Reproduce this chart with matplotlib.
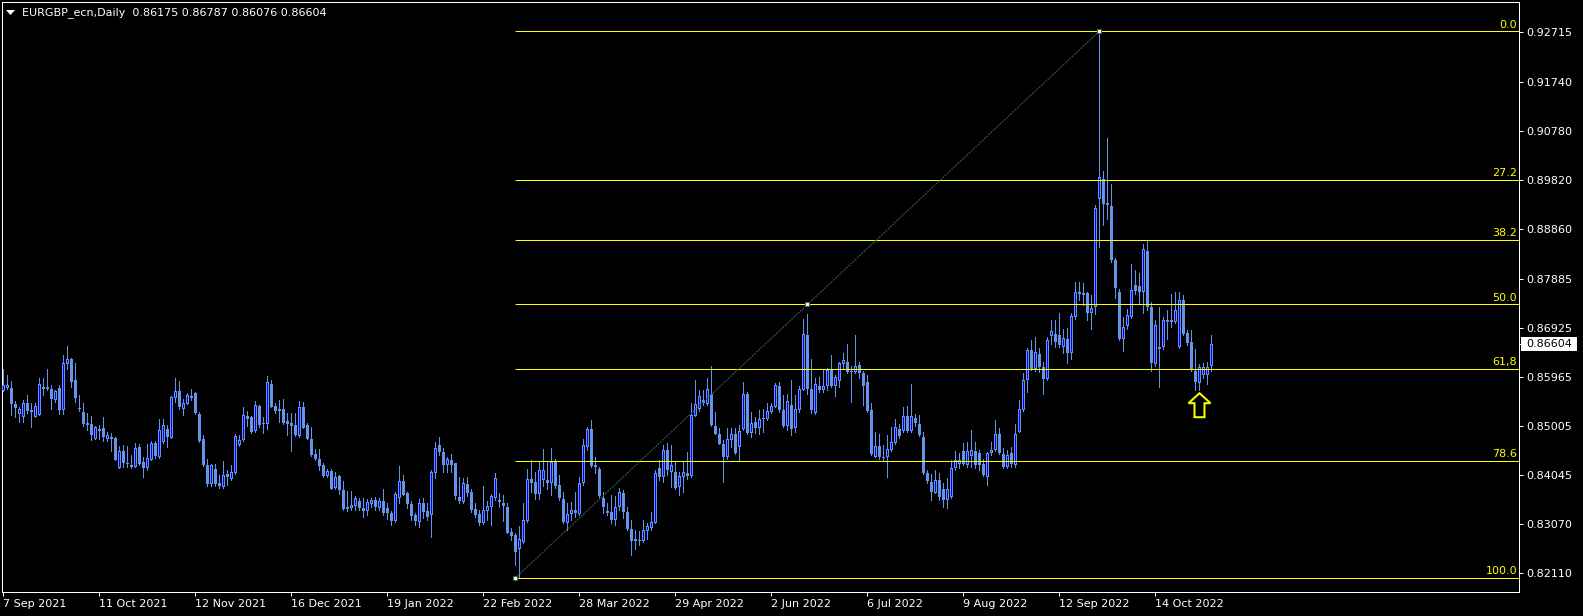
import numpy as np
import matplotlib
matplotlib.use("Agg")
import matplotlib.pyplot as plt
import matplotlib.transforms as mtransforms
from matplotlib.patches import Rectangle, Polygon
from matplotlib.collections import LineCollection

plt.rcParams['font.family'] = ['DejaVu Sans']

# EURGBP daily candles, 7 Sep 2021 .. 3 Nov 2022
opens = [
    0.8569, 0.8574, 0.8574, 0.8542, 0.8523, 0.8517, 0.8544, 0.8531, 0.8518, 0.8522,
    0.8576, 0.8576, 0.8572, 0.8550, 0.8574, 0.8531, 0.8621, 0.8632, 0.8589, 0.8535,
    0.8527, 0.8505, 0.8503, 0.8475, 0.8493, 0.8495, 0.8474, 0.8479, 0.8476, 0.8418,
    0.8450, 0.8427, 0.8419, 0.8420, 0.8458, 0.8429, 0.8418, 0.8434, 0.8466, 0.8439,
    0.8468, 0.8493, 0.8477, 0.8555, 0.8568, 0.8534, 0.8543, 0.8559, 0.8564, 0.8523,
    0.8474, 0.8423, 0.8386, 0.8415, 0.8387, 0.8380, 0.8405, 0.8395, 0.8407, 0.8463,
    0.8472, 0.8519, 0.8518, 0.8489, 0.8538, 0.8505, 0.8504, 0.8583, 0.8538, 0.8533,
    0.8533, 0.8509, 0.8506, 0.8501, 0.8480, 0.8537, 0.8501, 0.8474, 0.8444, 0.8435,
    0.8423, 0.8402, 0.8411, 0.8379, 0.8401, 0.8374, 0.8340, 0.8339, 0.8343, 0.8352,
    0.8339, 0.8333, 0.8346, 0.8354, 0.8338, 0.8352, 0.8339, 0.8330, 0.8313, 0.8359,
    0.8391, 0.8368, 0.8347, 0.8325, 0.8311, 0.8348, 0.8333, 0.8326, 0.8407, 0.8462,
    0.8448, 0.8423, 0.8433, 0.8427, 0.8361, 0.8351, 0.8386, 0.8370, 0.8337, 0.8328,
    0.8309, 0.8334, 0.8341, 0.8359, 0.8355, 0.8348, 0.8340, 0.8291, 0.8286, 0.8258,
    0.8273, 0.8314, 0.8395, 0.8390, 0.8366, 0.8394, 0.8394, 0.8388, 0.8430, 0.8384,
    0.8357, 0.8309, 0.8327, 0.8335, 0.8327, 0.8387, 0.8458, 0.8493, 0.8423, 0.8416,
    0.8359, 0.8334, 0.8331, 0.8315, 0.8341, 0.8368, 0.8331, 0.8298, 0.8278, 0.8276,
    0.8274, 0.8294, 0.8299, 0.8310, 0.8418, 0.8400, 0.8452, 0.8410, 0.8410, 0.8381,
    0.8399, 0.8407, 0.8401, 0.8520, 0.8534, 0.8550, 0.8542, 0.8562, 0.8500, 0.8485,
    0.8464, 0.8438, 0.8472, 0.8485, 0.8459, 0.8493, 0.8562, 0.8486, 0.8508, 0.8495,
    0.8516, 0.8514, 0.8527, 0.8537, 0.8578, 0.8531, 0.8499, 0.8540, 0.8495, 0.8532,
    0.8571, 0.8678, 0.8573, 0.8526, 0.8578, 0.8571, 0.8578, 0.8609, 0.8578, 0.8588,
    0.8622, 0.8625, 0.8608, 0.8606, 0.8619, 0.8603, 0.8586, 0.8532, 0.8439, 0.8460,
    0.8439, 0.8438, 0.8453, 0.8466, 0.8493, 0.8490, 0.8520, 0.8490, 0.8516, 0.8503,
    0.8479, 0.8408, 0.8389, 0.8369, 0.8394, 0.8376, 0.8355, 0.8361, 0.8417, 0.8425,
    0.8450, 0.8423, 0.8441, 0.8450, 0.8447, 0.8426, 0.8400, 0.8446, 0.8453, 0.8485,
    0.8444, 0.8420, 0.8446, 0.8423, 0.8488, 0.8531, 0.8590, 0.8648, 0.8611, 0.8641,
    0.8616, 0.8591, 0.8676, 0.8681, 0.8678, 0.8654, 0.8671, 0.8642, 0.8714, 0.8763,
    0.8761, 0.8761, 0.8722, 0.8733, 0.8944, 0.8983, 0.8936, 0.8931, 0.8825, 0.8763,
    0.8671, 0.8696, 0.8714, 0.8776, 0.8774, 0.8763, 0.8843, 0.8733, 0.8621, 0.8654,
    0.8654, 0.8703, 0.8708, 0.8704, 0.8654, 0.8746, 0.8683, 0.8665, 0.8608, 0.8584,
    0.8599, 0.8599, 0.86175]
highs = [
    0.8612, 0.8600, 0.8588, 0.8549, 0.8537, 0.8550, 0.8561, 0.8544, 0.8544, 0.8594,
    0.8594, 0.8611, 0.8580, 0.8570, 0.8580, 0.8638, 0.8656, 0.8633, 0.8623, 0.8561,
    0.8544, 0.8525, 0.8519, 0.8500, 0.8502, 0.8517, 0.8488, 0.8486, 0.8478, 0.8460,
    0.8462, 0.8460, 0.8442, 0.8467, 0.8464, 0.8439, 0.8464, 0.8471, 0.8471, 0.8513,
    0.8514, 0.8501, 0.8558, 0.8593, 0.8588, 0.8553, 0.8565, 0.8572, 0.8566, 0.8527,
    0.8482, 0.8435, 0.8426, 0.8426, 0.8403, 0.8431, 0.8413, 0.8424, 0.8485, 0.8482,
    0.8537, 0.8529, 0.8520, 0.8548, 0.8540, 0.8518, 0.8597, 0.8589, 0.8544, 0.8550,
    0.8552, 0.8526, 0.8526, 0.8526, 0.8548, 0.8547, 0.8506, 0.8497, 0.8454, 0.8454,
    0.8428, 0.8415, 0.8416, 0.8410, 0.8403, 0.8392, 0.8372, 0.8372, 0.8363, 0.8359,
    0.8358, 0.8356, 0.8359, 0.8361, 0.8358, 0.8377, 0.8348, 0.8333, 0.8371, 0.8421,
    0.8403, 0.8371, 0.8353, 0.8330, 0.8357, 0.8359, 0.8348, 0.8414, 0.8469, 0.8478,
    0.8456, 0.8439, 0.8444, 0.8427, 0.8400, 0.8397, 0.8400, 0.8376, 0.8348, 0.8335,
    0.8382, 0.8353, 0.8366, 0.8407, 0.8368, 0.8364, 0.8348, 0.8299, 0.8289, 0.8304,
    0.8348, 0.8416, 0.8434, 0.8410, 0.8432, 0.8454, 0.8430, 0.8456, 0.8436, 0.8403,
    0.8370, 0.8348, 0.8351, 0.8370, 0.8400, 0.8475, 0.8498, 0.8511, 0.8439, 0.8420,
    0.8370, 0.8348, 0.8364, 0.8362, 0.8379, 0.8375, 0.8341, 0.8316, 0.8296, 0.8293,
    0.8316, 0.8309, 0.8331, 0.8414, 0.8433, 0.8462, 0.8466, 0.8462, 0.8430, 0.8410,
    0.8430, 0.8448, 0.8544, 0.8589, 0.8571, 0.8570, 0.8593, 0.8617, 0.8527, 0.8495,
    0.8473, 0.8495, 0.8495, 0.8495, 0.8501, 0.8585, 0.8567, 0.8527, 0.8518, 0.8531,
    0.8534, 0.8544, 0.8545, 0.8584, 0.8586, 0.8560, 0.8562, 0.8589, 0.8560, 0.8578,
    0.8710, 0.8719, 0.8632, 0.8593, 0.8596, 0.8609, 0.8613, 0.8638, 0.8600, 0.8625,
    0.8643, 0.8660, 0.8617, 0.8678, 0.8626, 0.8608, 0.8599, 0.8544, 0.8488, 0.8485,
    0.8462, 0.8482, 0.8498, 0.8513, 0.8504, 0.8537, 0.8539, 0.8583, 0.8524, 0.8521,
    0.8488, 0.8413, 0.8406, 0.8413, 0.8407, 0.8387, 0.8397, 0.8434, 0.8451, 0.8446,
    0.8467, 0.8469, 0.8492, 0.8469, 0.8453, 0.8436, 0.8449, 0.8469, 0.8511, 0.8495,
    0.8456, 0.8453, 0.8459, 0.8504, 0.8550, 0.8604, 0.8652, 0.8668, 0.8675, 0.8652,
    0.8626, 0.8675, 0.8708, 0.8708, 0.8722, 0.8689, 0.8691, 0.8722, 0.8782, 0.8782,
    0.8780, 0.8763, 0.8756, 0.8933, 0.9274, 0.9000, 0.9065, 0.8975, 0.8830, 0.8769,
    0.8714, 0.8730, 0.8817, 0.8805, 0.8799, 0.8857, 0.8863, 0.8743, 0.8707, 0.8733,
    0.8714, 0.8728, 0.8759, 0.8763, 0.8763, 0.8756, 0.8688, 0.8688, 0.8650, 0.8622,
    0.8624, 0.8626, 0.86787]
lows = [
    0.8568, 0.8573, 0.8522, 0.8518, 0.8508, 0.8508, 0.8526, 0.8498, 0.8518, 0.8522,
    0.8560, 0.8570, 0.8534, 0.8547, 0.8523, 0.8523, 0.8611, 0.8576, 0.8547, 0.8529,
    0.8500, 0.8491, 0.8473, 0.8474, 0.8474, 0.8470, 0.8471, 0.8450, 0.8433, 0.8418,
    0.8420, 0.8420, 0.8418, 0.8420, 0.8424, 0.8400, 0.8413, 0.8433, 0.8437, 0.8437,
    0.8467, 0.8459, 0.8476, 0.8547, 0.8534, 0.8522, 0.8542, 0.8550, 0.8523, 0.8468,
    0.8421, 0.8382, 0.8382, 0.8382, 0.8378, 0.8378, 0.8384, 0.8393, 0.8405, 0.8460,
    0.8470, 0.8500, 0.8486, 0.8488, 0.8498, 0.8486, 0.8493, 0.8536, 0.8526, 0.8508,
    0.8504, 0.8483, 0.8451, 0.8480, 0.8478, 0.8495, 0.8474, 0.8441, 0.8433, 0.8414,
    0.8400, 0.8399, 0.8376, 0.8377, 0.8367, 0.8335, 0.8334, 0.8335, 0.8335, 0.8335,
    0.8322, 0.8325, 0.8341, 0.8335, 0.8335, 0.8325, 0.8317, 0.8305, 0.8312, 0.8349,
    0.8364, 0.8339, 0.8316, 0.8305, 0.8302, 0.8320, 0.8316, 0.8283, 0.8398, 0.8442,
    0.8410, 0.8410, 0.8410, 0.8357, 0.8348, 0.8348, 0.8363, 0.8331, 0.8322, 0.8305,
    0.8307, 0.8316, 0.8305, 0.8354, 0.8341, 0.8314, 0.8289, 0.8277, 0.8227, 0.8202,
    0.8271, 0.8311, 0.8370, 0.8357, 0.8357, 0.8382, 0.8377, 0.8364, 0.8379, 0.8355,
    0.8310, 0.8296, 0.8316, 0.8322, 0.8325, 0.8384, 0.8452, 0.8420, 0.8407, 0.8361,
    0.8330, 0.8325, 0.8309, 0.8305, 0.8336, 0.8320, 0.8296, 0.8246, 0.8259, 0.8266,
    0.8272, 0.8279, 0.8296, 0.8309, 0.8394, 0.8390, 0.8403, 0.8381, 0.8377, 0.8364,
    0.8370, 0.8395, 0.8400, 0.8519, 0.8529, 0.8540, 0.8540, 0.8500, 0.8484, 0.8464,
    0.8390, 0.8436, 0.8459, 0.8444, 0.8431, 0.8491, 0.8484, 0.8478, 0.8486, 0.8485,
    0.8488, 0.8511, 0.8525, 0.8536, 0.8527, 0.8498, 0.8491, 0.8483, 0.8488, 0.8527,
    0.8570, 0.8563, 0.8525, 0.8524, 0.8567, 0.8567, 0.8570, 0.8577, 0.8558, 0.8577,
    0.8614, 0.8603, 0.8547, 0.8603, 0.8593, 0.8541, 0.8528, 0.8443, 0.8438, 0.8436,
    0.8433, 0.8400, 0.8451, 0.8464, 0.8476, 0.8488, 0.8488, 0.8488, 0.8500, 0.8480,
    0.8406, 0.8387, 0.8355, 0.8368, 0.8355, 0.8340, 0.8338, 0.8358, 0.8413, 0.8417,
    0.8423, 0.8420, 0.8420, 0.8417, 0.8413, 0.8402, 0.8384, 0.8443, 0.8451, 0.8445,
    0.8417, 0.8417, 0.8420, 0.8420, 0.8487, 0.8530, 0.8567, 0.8609, 0.8608, 0.8606,
    0.8562, 0.8590, 0.8660, 0.8655, 0.8655, 0.8642, 0.8624, 0.8632, 0.8710, 0.8746,
    0.8737, 0.8707, 0.8689, 0.8719, 0.8850, 0.8893, 0.8906, 0.8821, 0.8750, 0.8668,
    0.8647, 0.8689, 0.8712, 0.8759, 0.8741, 0.8722, 0.8728, 0.8608, 0.8617, 0.8577,
    0.8650, 0.8671, 0.8694, 0.8701, 0.8652, 0.8678, 0.8658, 0.8608, 0.8571, 0.8570,
    0.8593, 0.8583, 0.86076]
closes = [
    0.8581, 0.8580, 0.8543, 0.8535, 0.8533, 0.8544, 0.8529, 0.8527, 0.8538, 0.8583,
    0.8573, 0.8572, 0.8552, 0.8568, 0.8531, 0.8623, 0.8632, 0.8586, 0.8555, 0.8534,
    0.8503, 0.8501, 0.8482, 0.8497, 0.8489, 0.8478, 0.8482, 0.8474, 0.8433, 0.8450,
    0.8427, 0.8425, 0.8423, 0.8456, 0.8425, 0.8418, 0.8437, 0.8466, 0.8440, 0.8491,
    0.8501, 0.8478, 0.8556, 0.8568, 0.8537, 0.8544, 0.8560, 0.8555, 0.8526, 0.8470,
    0.8423, 0.8386, 0.8423, 0.8386, 0.8382, 0.8403, 0.8400, 0.8409, 0.8480, 0.8473,
    0.8521, 0.8514, 0.8488, 0.8540, 0.8502, 0.8504, 0.8585, 0.8537, 0.8529, 0.8530,
    0.8506, 0.8503, 0.8500, 0.8482, 0.8537, 0.8496, 0.8475, 0.8442, 0.8435, 0.8421,
    0.8401, 0.8411, 0.8377, 0.8400, 0.8374, 0.8337, 0.8337, 0.8345, 0.8358, 0.8338,
    0.8333, 0.8350, 0.8354, 0.8341, 0.8352, 0.8330, 0.8330, 0.8313, 0.8367, 0.8391,
    0.8365, 0.8346, 0.8324, 0.8314, 0.8348, 0.8331, 0.8322, 0.8409, 0.8456, 0.8448,
    0.8423, 0.8436, 0.8423, 0.8362, 0.8353, 0.8387, 0.8368, 0.8335, 0.8325, 0.8309,
    0.8335, 0.8343, 0.8362, 0.8397, 0.8351, 0.8343, 0.8290, 0.8284, 0.8253, 0.8279,
    0.8315, 0.8395, 0.8388, 0.8366, 0.8413, 0.8413, 0.8388, 0.8430, 0.8382, 0.8359,
    0.8311, 0.8328, 0.8336, 0.8330, 0.8387, 0.8462, 0.8493, 0.8421, 0.8420, 0.8362,
    0.8340, 0.8330, 0.8316, 0.8341, 0.8371, 0.8331, 0.8298, 0.8274, 0.8275, 0.8274,
    0.8296, 0.8303, 0.8311, 0.8408, 0.8400, 0.8452, 0.8413, 0.8423, 0.8379, 0.8401,
    0.8410, 0.8402, 0.8521, 0.8542, 0.8558, 0.8544, 0.8572, 0.8501, 0.8485, 0.8465,
    0.8438, 0.8475, 0.8485, 0.8446, 0.8489, 0.8562, 0.8486, 0.8506, 0.8495, 0.8514,
    0.8514, 0.8529, 0.8538, 0.8580, 0.8531, 0.8499, 0.8548, 0.8493, 0.8534, 0.8573,
    0.8680, 0.8573, 0.8531, 0.8583, 0.8571, 0.8578, 0.8609, 0.8578, 0.8595, 0.8624,
    0.8630, 0.8605, 0.8605, 0.8617, 0.8603, 0.8578, 0.8530, 0.8444, 0.8460, 0.8438,
    0.8437, 0.8454, 0.8468, 0.8497, 0.8480, 0.8520, 0.8490, 0.8520, 0.8505, 0.8482,
    0.8408, 0.8391, 0.8371, 0.8394, 0.8361, 0.8355, 0.8377, 0.8417, 0.8433, 0.8434,
    0.8426, 0.8450, 0.8453, 0.8423, 0.8423, 0.8404, 0.8446, 0.8453, 0.8485, 0.8446,
    0.8420, 0.8443, 0.8426, 0.8484, 0.8534, 0.8590, 0.8648, 0.8611, 0.8644, 0.8616,
    0.8591, 0.8668, 0.8686, 0.8665, 0.8658, 0.8673, 0.8642, 0.8715, 0.8763, 0.8759,
    0.8756, 0.8722, 0.8731, 0.8928, 0.8987, 0.8934, 0.8932, 0.8825, 0.8771, 0.8671,
    0.8694, 0.8717, 0.8766, 0.8765, 0.8763, 0.8846, 0.8733, 0.8624, 0.8697, 0.8650,
    0.8707, 0.8708, 0.8704, 0.8727, 0.8746, 0.8681, 0.8663, 0.8611, 0.8586, 0.8616,
    0.8616, 0.8616, 0.86604]

# bar index of each date label (24 trading days apart)
date_idx = [0, 24, 48, 72, 96, 120, 144, 168, 192, 216, 240, 264, 288]
date_labels = ['7 Sep 2021', '11 Oct 2021', '12 Nov 2021', '16 Dec 2021',
               '19 Jan 2022', '22 Feb 2022', '28 Mar 2022', '29 Apr 2022',
               '2 Jun 2022', '6 Jul 2022', '9 Aug 2022', '12 Sep 2022',
               '14 Oct 2022']
price_ticks = [0.92715, 0.91740, 0.90780, 0.89820, 0.88860, 0.87885,
               0.86925, 0.85965, 0.85005, 0.84045, 0.83070, 0.82110]

fib_levels = [0.0, 27.2, 38.2, 50.0, 61.8, 78.6, 100.0]
fib_texts = ['0.0', '27.2', '38.2', '50.0', '61,8', '78.6', '100.0']
fib_from = 128   # bar of the low anchor
fib_to = 274     # bar of the high anchor (26 Sep 2022)

title = 'EURGBP_ecn,Daily  0.86175 0.86787 0.86076 0.86604'

bull_fill = '#0000FF'
bear_fill = '#6495ED'
wick_col = '#6495ED'
fib_col = '#FFFF00'
trend_col = '#3B6262'

W, H = 1583, 616
PX = 0.72  # one pixel in points at dpi 100

fig = plt.figure(figsize=(W / 100, H / 100), dpi=100)
fig.patch.set_facecolor('black')
ax = fig.add_axes([2 / W, 24 / H, 1517 / W, 590 / H])
ax.set_facecolor('black')

o = np.array(opens)
h = np.array(highs)
l = np.array(lows)
c = np.array(closes)
xs = np.arange(len(c))

# 4 pixels per bar, bar i centred on pixel column 3 + 4 i
ax.set_xlim(-0.375, 378.875)
ax.set_ylim(0.81743, 0.93309)
k = (0.93309 - 0.81743) / 590  # price per pixel

segs = [[(i, l[i]), (i, h[i])] for i in xs]
ax.add_collection(LineCollection(segs, colors=wick_col, linewidths=PX,
                                 antialiaseds=False, zorder=2))
for i in xs:
    bot = min(o[i], c[i])
    hgt = max(abs(c[i] - o[i]), k)
    ax.add_patch(Rectangle((i - 0.375, bot), 0.75, hgt, facecolor=bear_fill,
                           edgecolor='none', antialiased=False, zorder=3))
    if c[i] > o[i] and hgt > 2 * k:
        ax.add_patch(Rectangle((i - 0.125, bot + k), 0.25, hgt - 2 * k,
                               facecolor=bull_fill, edgecolor='none',
                               antialiased=False, zorder=3.5))

# fibonacci retracement
fib_hi = h.max()
fib_lo = l.min()
for lv, tx in zip(fib_levels, fib_texts):
    p = fib_hi - lv / 100 * (fib_hi - fib_lo)
    ax.hlines(p, fib_from, 379, color=fib_col, linewidth=PX, zorder=4)
    ax.text(378.4, p + 1.5 * k, tx, color=fib_col, fontsize=8,
            ha='right', va='bottom', zorder=5)

ax.plot([fib_from, fib_to], [fib_lo, fib_hi], color=trend_col,
        linewidth=PX, linestyle=(0, (2, 1)), zorder=4)
mid_x = (fib_from + fib_to) / 2
ax.plot([fib_from, mid_x, fib_to], [fib_lo, (fib_lo + fib_hi) / 2, fib_hi],
        linestyle='none', marker='s', markersize=3, markerfacecolor='white',
        markeredgecolor=trend_col, markeredgewidth=0.8, zorder=6,
        clip_on=False)

# up arrow under the last lows
ax_i = 299
tip = 0.8564
hw, sw = 11 / 4, 5 / 4
arrow = [(ax_i, tip), (ax_i + hw, tip - 10 * k), (ax_i + sw, tip - 10 * k),
         (ax_i + sw, tip - 24 * k), (ax_i - sw, tip - 24 * k),
         (ax_i - sw, tip - 10 * k), (ax_i - hw, tip - 10 * k)]
ax.add_patch(Polygon(arrow, closed=True, facecolor='none', edgecolor=fib_col,
                     linewidth=2 * PX, joinstyle='miter', zorder=7))

# axes styling
for s in ax.spines.values():
    s.set_color('white')
    s.set_linewidth(PX)
ax.yaxis.tick_right()
ax.set_yticks(price_ticks)
ax.set_yticklabels([f'{v:.5f}' for v in price_ticks])
ax.set_xticks(date_idx)
ax.set_xticklabels(date_labels, ha='left')
ax.tick_params(colors='white', labelsize=8, length=2.9, width=PX, pad=2.2)
ax.tick_params(axis='x', pad=2.0)

# current price box on the price scale
last = c[-1]
trans = mtransforms.blended_transform_factory(fig.transFigure, ax.transData)
ax.add_patch(Rectangle((1521 / W, last - 7 * k), 56 / W, 14 * k,
                       transform=trans, facecolor='white', edgecolor='none',
                       clip_on=False, zorder=8))
ax.plot([1519 / W, 1523 / W], [last, last], transform=trans, color='white',
        linewidth=PX, clip_on=False)
ax.text(1526 / W, last, f'{last:.5f}', transform=trans, color='black',
        fontsize=8, ha='left', va='center', clip_on=False, zorder=9)

# chart caption
fig.text(21.5 / W, 1 - 12.5 / H, title, color='white', fontsize=8,
         ha='left', va='center')
fig.add_artist(Polygon([(6 / W, 1 - 10 / H), (15 / W, 1 - 10 / H),
                        (10.5 / W, 1 - 15 / H)], closed=True,
                       transform=fig.transFigure, facecolor='white',
                       edgecolor='none'))

fig.savefig('out.png', dpi=100, facecolor='black')
